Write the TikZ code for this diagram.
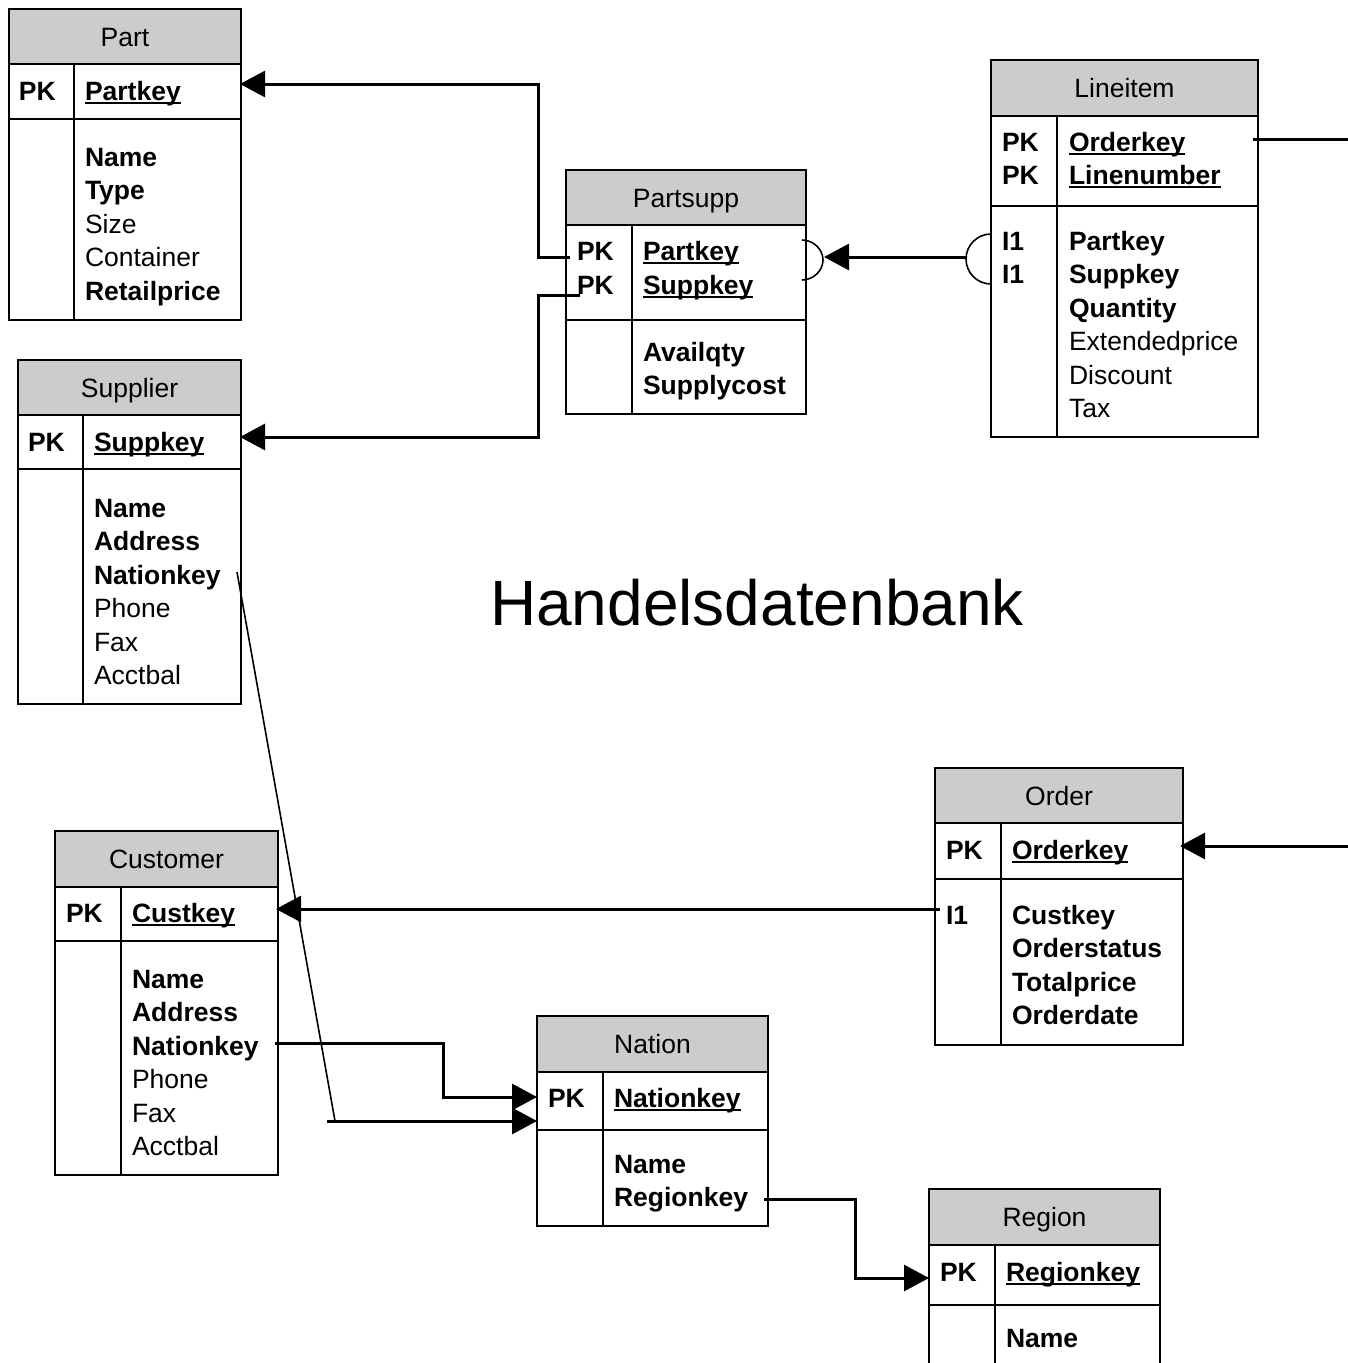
\documentclass[tikz,border=0pt]{standalone}
\usepackage{fontspec}
\setmainfont{Liberation Sans}
\usetikzlibrary{arrows.meta}
\definecolor{hdr}{RGB}{204,204,204}
\newcommand\ukey[1]{\setbox0=\hbox{\bfseries #1}\rlap{\rule[-3.8pt]{\wd0}{2.2pt}}\box0}
\newcommand\fld[4]{\node[fldtxt] (#1) at (#2,#3) {#4};}
\begin{document}
\begin{tikzpicture}[x=1pt,y=-1pt,
 ttl/.style={draw, fill=hdr, line width=1.8pt, anchor=north west, outer sep=0pt, inner sep=0pt, minimum height=55pt, text height=19pt, text depth=0pt, font=\fontsize{26.5pt}{33.5pt}\selectfont},
 cellbox/.style={draw, line width=1.8pt, anchor=north west, outer sep=0pt, inner sep=0pt},
 divline/.style={line width=1.8pt},
 fldtxt/.style={anchor=base west, inner sep=0pt, outer sep=0pt, font=\fontsize{26.5pt}{33.5pt}\selectfont},
 conn/.style={line width=3pt},
 tip/.style={-{Triangle[length=25pt,width=26pt]}},
 thinline/.style={line width=1.6pt}]
\useasboundingbox (0,0) rectangle (1348,1363);
\clip (0,0) rectangle (1348,1363);
\fill[white] (0,0) rectangle (1348,1363);

% ---------- Part
\node[ttl, minimum width=232pt, minimum height=55pt] (partT) at (9,9) {Part};
\node[cellbox, minimum width=232pt, minimum height=55pt] (partK) at (partT.south west) {};
\node[cellbox, minimum width=232pt, minimum height=201pt] (partB) at (partK.south west) {};
\draw[divline] ([xshift=65pt]partK.north west) -- ([xshift=65pt]partB.south west);
\fld{partPK}{19}{100}{\textbf{PK}}
\fld{partKey}{85}{100}{\ukey{Partkey}}
\fld{partF1}{85}{166}{\textbf{Name}}
\fld{partF2}{85}{199.5}{\textbf{Type}}
\fld{partF3}{85}{233}{Size}
\fld{partF4}{85}{266.5}{Container}
\fld{partF5}{85}{300}{\textbf{Retailprice}}

% ---------- Supplier
\node[ttl, minimum width=223pt, minimum height=55pt] (supT) at (18,360) {Supplier};
\node[cellbox, minimum width=223pt, minimum height=54pt] (supK) at (supT.south west) {};
\node[cellbox, minimum width=223pt, minimum height=235pt] (supB) at (supK.south west) {};
\draw[divline] ([xshift=65pt]supK.north west) -- ([xshift=65pt]supB.south west);
\fld{supPK}{28}{451}{\textbf{PK}}
\fld{supKey}{94}{451}{\ukey{Suppkey}}
\fld{supF1}{94}{517}{\textbf{Name}}
\fld{supF2}{94}{550.5}{\textbf{Address}}
\fld{supF3}{94}{584}{\textbf{Nationkey}}
\fld{supF4}{94}{617.5}{Phone}
\fld{supF5}{94}{651}{Fax}
\fld{supF6}{94}{684.5}{Acctbal}

% ---------- Partsupp
\node[ttl, minimum width=240pt, minimum height=55pt] (psT) at (566,170) {Partsupp};
\node[cellbox, minimum width=240pt, minimum height=95pt] (psK) at (psT.south west) {};
\node[cellbox, minimum width=240pt, minimum height=94pt] (psB) at (psK.south west) {};
\draw[divline] ([xshift=66pt]psK.north west) -- ([xshift=66pt]psB.south west);
\fld{psPK1}{577}{260}{\textbf{PK}}
\fld{psPK2}{577}{294}{\textbf{PK}}
\fld{psKey1}{643}{260}{\ukey{Partkey}}
\fld{psKey2}{643}{294}{\ukey{Suppkey}}
\fld{psF1}{643}{361}{\textbf{Availqty}}
\fld{psF2}{643}{394.5}{\textbf{Supplycost}}

% ---------- Lineitem
\node[ttl, minimum width=267pt, minimum height=56pt] (liT) at (991,60) {Lineitem};
\node[cellbox, minimum width=267pt, minimum height=90pt] (liK) at (liT.south west) {};
\node[cellbox, minimum width=267pt, minimum height=231pt] (liB) at (liK.south west) {};
\draw[divline] ([xshift=66pt]liK.north west) -- ([xshift=66pt]liB.south west);
\fld{liPK1}{1002}{151}{\textbf{PK}}
\fld{liPK2}{1002}{184.5}{\textbf{PK}}
\fld{liKey1}{1069}{151}{\ukey{Orderkey}}
\fld{liKey2}{1069}{184.5}{\ukey{Linenumber}}
\fld{liI1}{1002}{250}{\textbf{I1}}
\fld{liI2}{1002}{283.5}{\textbf{I1}}
\fld{liF1}{1069}{250}{\textbf{Partkey}}
\fld{liF2}{1069}{283.5}{\textbf{Suppkey}}
\fld{liF3}{1069}{317}{\textbf{Quantity}}
\fld{liF4}{1069}{350.5}{Extendedprice}
\fld{liF5}{1069}{384}{Discount}
\fld{liF6}{1069}{417.5}{Tax}

% ---------- Order
\node[ttl, minimum width=248pt, minimum height=55pt] (orT) at (935,768) {Order};
\node[cellbox, minimum width=248pt, minimum height=56pt] (orK) at (orT.south west) {};
\node[cellbox, minimum width=248pt, minimum height=166pt] (orB) at (orK.south west) {};
\draw[divline] ([xshift=66pt]orK.north west) -- ([xshift=66pt]orB.south west);
\fld{orPK}{946}{859}{\textbf{PK}}
\fld{orKey}{1012}{859}{\ukey{Orderkey}}
\fld{orI1}{946}{924}{\textbf{I1}}
\fld{orF1}{1012}{924}{\textbf{Custkey}}
\fld{orF2}{1012}{957.5}{\textbf{Orderstatus}}
\fld{orF3}{1012}{991}{\textbf{Totalprice}}
\fld{orF4}{1012}{1024.5}{\textbf{Orderdate}}

% ---------- Customer
\node[ttl, minimum width=223pt, minimum height=56pt] (cuT) at (55,831) {Customer};
\node[cellbox, minimum width=223pt, minimum height=54pt] (cuK) at (cuT.south west) {};
\node[cellbox, minimum width=223pt, minimum height=234pt] (cuB) at (cuK.south west) {};
\draw[divline] ([xshift=66pt]cuK.north west) -- ([xshift=66pt]cuB.south west);
\fld{cuPK}{66}{922}{\textbf{PK}}
\fld{cuKey}{132}{922}{\ukey{Custkey}}
\fld{cuF1}{132}{988}{\textbf{Name}}
\fld{cuF2}{132}{1021.5}{\textbf{Address}}
\fld{cuF3}{132}{1055}{\textbf{Nationkey}}
\fld{cuF4}{132}{1088.5}{Phone}
\fld{cuF5}{132}{1122}{Fax}
\fld{cuF6}{132}{1155.5}{Acctbal}

% ---------- Nation
\node[ttl, minimum width=231pt, minimum height=56pt] (naT) at (537,1016) {Nation};
\node[cellbox, minimum width=231pt, minimum height=58pt] (naK) at (naT.south west) {};
\node[cellbox, minimum width=231pt, minimum height=96pt] (naB) at (naK.south west) {};
\draw[divline] ([xshift=66pt]naK.north west) -- ([xshift=66pt]naB.south west);
\fld{naPK}{548}{1107}{\textbf{PK}}
\fld{naKey}{614}{1107}{\ukey{Nationkey}}
\fld{naF1}{614}{1173}{\textbf{Name}}
\fld{naF2}{614}{1206.5}{\textbf{Regionkey}}

% ---------- Region
\node[ttl, minimum width=231pt, minimum height=56pt] (reT) at (929,1189) {Region};
\node[cellbox, minimum width=231pt, minimum height=60pt] (reK) at (reT.south west) {};
\node[cellbox, minimum width=231pt, minimum height=90pt] (reB) at (reK.south west) {};
\draw[divline] ([xshift=66pt]reK.north west) -- ([xshift=66pt]reB.south west);
\fld{rePK}{940}{1281}{\textbf{PK}}
\fld{reKey}{1006}{1281}{\ukey{Regionkey}}
\fld{reF1}{1006}{1347}{\textbf{Name}}

% ---------- Title
\node[font=\fontsize{64pt}{70pt}\selectfont, inner sep=0pt] (dbtitle) at (757,603) {Handelsdatenbank};

% ---------- connector end points
\coordinate (psA) at (570,257);
\coordinate (psB) at (580,295);
\coordinate (partIn) at (240,84);
\coordinate (suppIn) at (240,437);
\coordinate (liL) at (966,257);
\coordinate (psR) at (824,257);
\coordinate (liR) at (1253,139);
\coordinate (edgeA) at (1348,139);
\coordinate (edgeB) at (1348,846);
\coordinate (ordIn) at (1180,846);
\coordinate (ordL) at (940,909);
\coordinate (custIn) at (276,909);
\coordinate (suppNk) at (237,572);
\coordinate (diagEnd) at (335,1121);
\coordinate (hStart) at (327,1121);
\coordinate (natIn2) at (537,1121);
\coordinate (custNk) at (275,1043);
\coordinate (natIn1) at (537,1097);
\coordinate (natRk) at (764,1199);
\coordinate (regIn) at (929,1278);

% ---------- connectors
\draw[conn,tip] (psA) -- ++(-32,0) |- (partIn);
\draw[conn,tip] (psB) -- ++(-42,0) |- (suppIn);
\draw[conn,tip] (liL) -- (psR);
\draw[thinline] (991,234) .. controls (977.2,234) and (966,245.2) .. (966,259)
                          .. controls (966,272.8) and (977.2,284) .. (991,284);
\draw[thinline] (802,240) .. controls (813,240) and (823,249) .. (823,260)
                          .. controls (823,271) and (813,280) .. (802,280);
\draw[conn] (liR) -- (edgeA);
\draw[conn,tip] (edgeB) -- (ordIn);
\draw[conn,tip] (ordL) -- (custIn);
\draw[thinline] (suppNk) -- (diagEnd);
\draw[conn,tip] (hStart) -- (natIn2);
\draw[conn,tip] (custNk) -- ++(168,0) |- (natIn1);
\draw[conn,tip] (natRk) -- ++(91,0) |- (regIn);
\end{tikzpicture}
\end{document}
